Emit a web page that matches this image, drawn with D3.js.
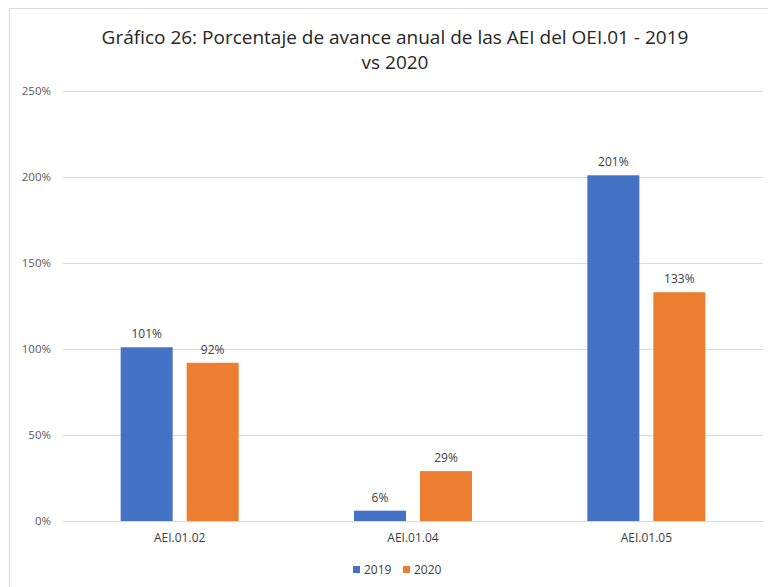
<!DOCTYPE html>
<html><head><meta charset="utf-8">
<script src="https://cdn.jsdelivr.net/npm/d3@7"></script>
<style>
html,body{margin:0;padding:0;background:#fff;}
svg{display:block;}
text{font-family:"Open Sans",Lato,sans-serif;}
</style></head>
<body><svg id="c" width="768" height="587"></svg>
<script>
const categories = ["AEI.01.02", "AEI.01.04", "AEI.01.05"];
const seriesNames = ["2019", "2020"];
const values2019 = [1.01, 0.06, 2.01];
const values2020 = [0.92, 0.29, 1.33];
const yTicks = [0, 0.5, 1, 1.5, 2, 2.5];
const colors = ["#4472C4", "#ED7D31"];
const titleLines = ["Gráfico 26: Porcentaje de avance anual de las AEI del OEI.01 - 2019", "vs 2020"];

const svg = d3.select("#c");
const seriesValues = [values2019, values2020];

// frame
svg.append("line").attr("x1", 9.5).attr("x2", 768).attr("y1", 8.5).attr("y2", 8.5).attr("stroke", "#d9d9d9");
svg.append("line").attr("x1", 9.5).attr("x2", 9.5).attr("y1", 8.5).attr("y2", 587).attr("stroke", "#d9d9d9");

const x0 = d3.scaleBand().domain(categories).range([63, 763]).padding(0);
const x1 = d3.scaleBand().domain(seriesNames).range([0, x0.bandwidth()]).paddingInner(0.212).paddingOuter(0.874);
const y = d3.scaleLinear().domain([0, 2.5]).range([521, 91]);

// gridlines
const yAxis = d3.axisLeft(y).tickValues(yTicks).tickFormat(d => Math.round(d * 100) + "%").tickSize(-700).tickPadding(12);
const gy = svg.append("g").attr("transform", "translate(63,0)").call(yAxis);
gy.select(".domain").remove();
gy.selectAll(".tick line").attr("stroke", "#d9d9d9").attr("stroke-width", 1);
gy.selectAll(".tick text").attr("fill", "#595959").style("font-size", "11.5px").style("font-family", '"Open Sans",sans-serif');

// bars
const groups = svg.append("g").selectAll("g").data(categories).join("g")
  .attr("transform", d => `translate(${x0(d)},0)`);
groups.selectAll("rect").data((c, i) => seriesNames.map((s, j) => ({s, j, v: seriesValues[j][i]})))
  .join("rect")
  .attr("x", d => x1(d.s)).attr("width", x1.bandwidth())
  .attr("y", d => y(d.v)).attr("height", d => y(0) - y(d.v))
  .attr("fill", d => colors[d.j]);
groups.selectAll("text").data((c, i) => seriesNames.map((s, j) => ({s, j, v: seriesValues[j][i]})))
  .join("text")
  .attr("x", d => x1(d.s) + x1.bandwidth() / 2).attr("y", d => y(d.v) - 9)
  .attr("text-anchor", "middle").attr("fill", "#404040").style("font-size", "12px")
  .text(d => Math.round(d.v * 100) + "%");

// x axis baseline + labels
const xAxis = d3.axisBottom(x0).tickSize(0).tickPadding(12);
const gx = svg.append("g").attr("transform", "translate(0,521)").call(xAxis);
gx.select(".domain").attr("stroke", "#d9d9d9");
gx.selectAll(".tick text").attr("fill", "#404040").style("font-size", "12px").style("font-family", '"Open Sans",sans-serif');

// title
svg.append("text").attr("x", 395).attr("y", 44).attr("text-anchor", "middle")
  .attr("fill", "#262626").style("font-size", "19px").text(titleLines[0]);
svg.append("text").attr("x", 395).attr("y", 69).attr("text-anchor", "middle")
  .attr("fill", "#262626").style("font-size", "19px").text(titleLines[1]);

// legend
const legendX = [353, 403];
const lg = svg.append("g").selectAll("g").data(seriesNames).join("g")
  .attr("transform", (d, i) => `translate(${legendX[i]},566)`);
lg.append("rect").attr("width", 7).attr("height", 7).attr("fill", (d, i) => colors[i]);
lg.append("text").attr("x", 11).attr("y", 7.5).attr("fill", "#404040").style("font-size", "12px").text(d => d);
</script></body></html>
